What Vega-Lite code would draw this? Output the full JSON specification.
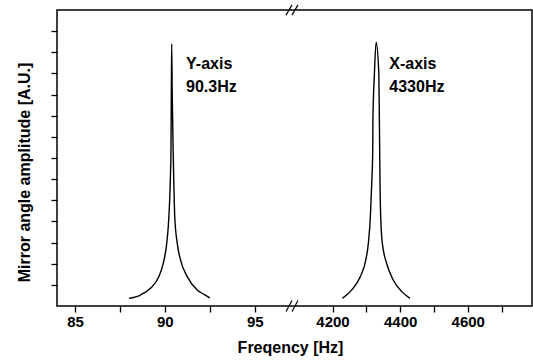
{
  "$schema": "https://vega.github.io/schema/vega-lite/v6.json",
  "width": 475,
  "height": 296,
  "autosize": "none",
  "padding": {"left": 57, "top": 10, "right": 1, "bottom": 55},
  "background": "white",
  "config": {
    "view": {"stroke": "#000", "strokeWidth": 1.5},
    "font": "Liberation Sans",
    "axis": {
      "grid": false,
      "domain": false,
      "tickColor": "#000",
      "tickWidth": 1.3,
      "tickSize": 6,
      "labelFont": "Liberation Sans",
      "labelFontSize": 15,
      "labelFontWeight": "bold",
      "labelColor": "#000",
      "labelFlush": false,
      "labelOverlap": false,
      "titleFont": "Liberation Sans",
      "titleFontSize": 16,
      "titleFontWeight": "bold",
      "titleColor": "#000"
    }
  },
  "resolve": {"scale": {"x": "independent"}, "axis": {"x": "independent"}},
  "encoding": {
    "y": {
      "field": "a",
      "type": "quantitative",
      "scale": {"domain": [0, 7], "nice": false, "zero": false},
      "axis": {
        "orient": "left",
        "values": [0.5, 1, 1.5, 2, 2.5, 3, 3.5, 4, 4.5, 5, 5.5, 6, 6.5],
        "labels": false,
        "title": "Mirror angle amplitude [A.U.]",
        "titleX": -25,
        "titleY": 162,
        "titleAnchor": "middle",
        "encode": {"ticks": {"update": {"x2": {"signal": "datum.value % 1 === 0 ? 6.5 : 4"}}}}
      }
    }
  },
  "layer": [
    {
      "encoding": {
        "x": {
          "field": "f",
          "type": "quantitative",
          "scale": {"domain": [84, 97.2], "range": [0, 237.3], "nice": false, "zero": false},
          "axis": {
            "orient": "bottom",
            "values": [85, 87.5, 90, 92.5, 95],
            "format": "d",
            "labelExpr": "datum.value % 5 === 0 ? datum.label : ''",
            "labelPadding": 2,
            "title": "Freqency [Hz]",
            "titleX": 233,
            "titleY": 46.5,
            "titleBaseline": "alphabetic",
            "titleAnchor": "middle",
            "encode": {"ticks": {"update": {"y2": {"signal": "datum.value % 5 === 0 ? -6 : -3.5"}}}}
          }
        }
      },
      "layer": [
        {
          "data": {"values": [
            {"f": 88.0, "a": 0.18}, {"f": 88.64, "a": 0.26}, {"f": 89.2, "a": 0.42}, {"f": 89.66, "a": 0.69},
            {"f": 89.91, "a": 1.01}, {"f": 90.08, "a": 1.4}, {"f": 90.19, "a": 1.88}, {"f": 90.26, "a": 2.43},
            {"f": 90.31, "a": 3.06}, {"f": 90.34, "a": 3.69}, {"f": 90.36, "a": 5.0}, {"f": 90.38, "a": 6.2},
            {"f": 90.41, "a": 5.0}, {"f": 90.46, "a": 3.69}, {"f": 90.5, "a": 2.9}, {"f": 90.55, "a": 2.11},
            {"f": 90.69, "a": 1.48}, {"f": 90.87, "a": 1.09}, {"f": 91.25, "a": 0.69}, {"f": 91.8, "a": 0.38},
            {"f": 92.2, "a": 0.27}, {"f": 92.5, "a": 0.19}
          ]},
          "mark": {"type": "line", "color": "#000", "strokeWidth": 1.4, "interpolate": "monotone"}
        },
        {
          "data": {"values": [
            {"f": 91.18, "a": 5.605, "t": "Y-axis"},
            {"f": 91.18, "a": 5.054, "t": "90.3Hz"}
          ]},
          "mark": {"type": "text", "align": "left", "baseline": "alphabetic", "fontSize": 16, "fontWeight": "bold", "color": "#000", "font": "Liberation Sans"},
          "encoding": {"text": {"field": "t"}}
        }
      ]
    },
    {
      "encoding": {
        "x": {
          "field": "f",
          "type": "quantitative",
          "scale": {"domain": [4087, 4790], "range": [237.3, 475], "nice": false, "zero": false},
          "axis": {
            "orient": "bottom",
            "values": [4200, 4300, 4400, 4500, 4600, 4700],
            "format": "d",
            "labelExpr": "datum.value % 200 === 0 ? datum.label : ''",
            "labelPadding": 2,
            "title": null,
            "encode": {"ticks": {"update": {"y2": {"signal": "datum.value % 200 === 0 ? -6 : -3.5"}}}}
          }
        }
      },
      "layer": [
        {
          "data": {"values": [
            {"f": 4229.5, "a": 0.18}, {"f": 4257, "a": 0.38}, {"f": 4282, "a": 0.69}, {"f": 4298.5, "a": 1.09},
            {"f": 4306, "a": 1.48}, {"f": 4312, "a": 2.11}, {"f": 4316, "a": 2.9}, {"f": 4319, "a": 3.69},
            {"f": 4319.5, "a": 4.4}, {"f": 4324, "a": 5.5}, {"f": 4329, "a": 6.24}, {"f": 4337, "a": 5.5},
            {"f": 4338.6, "a": 4.4}, {"f": 4339.5, "a": 3.69}, {"f": 4340.5, "a": 2.9}, {"f": 4342.5, "a": 2.11},
            {"f": 4347.5, "a": 1.48}, {"f": 4360, "a": 1.01}, {"f": 4380, "a": 0.61}, {"f": 4405, "a": 0.34},
            {"f": 4429, "a": 0.18}
          ]},
          "mark": {"type": "line", "color": "#000", "strokeWidth": 1.4, "interpolate": "monotone"}
        },
        {
          "data": {"values": [
            {"f": 4368, "a": 5.605, "t": "X-axis"},
            {"f": 4368, "a": 5.054, "t": "4330Hz"}
          ]},
          "mark": {"type": "text", "align": "left", "baseline": "alphabetic", "fontSize": 16, "fontWeight": "bold", "color": "#000", "font": "Liberation Sans"},
          "encoding": {"text": {"field": "t"}}
        },
        {
          "data": {"values": [
            {"f": 4062.5, "f2": 4080.2, "a": -0.13, "a2": 0.13},
            {"f": 4080.2, "f2": 4097.9, "a": -0.13, "a2": 0.13},
            {"f": 4062.5, "f2": 4080.2, "a": 6.88, "a2": 7.12},
            {"f": 4080.2, "f2": 4097.9, "a": 6.88, "a2": 7.12}
          ]},
          "mark": {"type": "rule", "color": "#000", "strokeWidth": 1.2},
          "encoding": {"x2": {"field": "f2"}, "y2": {"field": "a2"}}
        }
      ]
    }
  ]
}
